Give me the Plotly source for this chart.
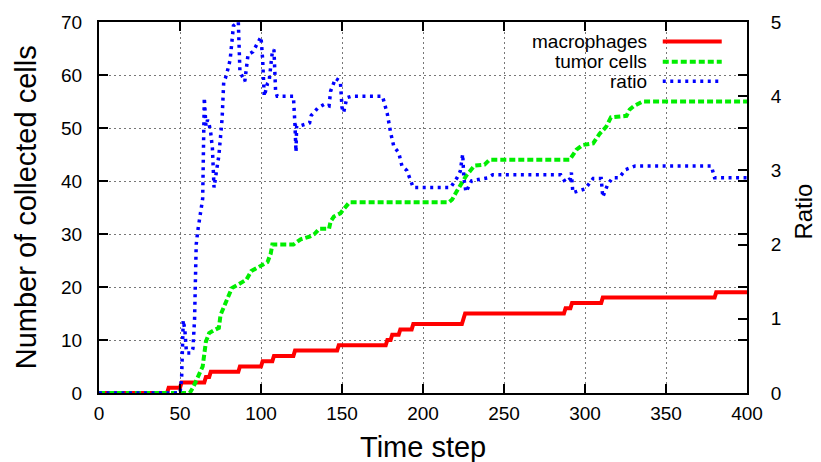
import plotly.graph_objects as go

# ---------------- data ----------------
mac_t = [0, 42, 43, 50, 51, 65, 66, 68, 69, 86, 87, 100, 101, 107, 108, 120, 121, 147, 148,
         177, 178, 180, 181, 185, 186, 193, 194, 224, 226, 287, 288, 291, 292, 310, 311, 380, 381, 400]
mac_v = [0, 0, 1, 1, 2, 2, 3, 3, 4, 4, 5, 5, 6, 6, 7, 7, 8, 8, 9,
         9, 10, 10, 11, 11, 12, 12, 13, 13, 15, 15, 16, 16, 17, 17, 18, 18, 19, 19]

tum_t = [0, 56, 58, 60, 63, 64, 66, 68, 72, 74, 75, 78, 82, 86, 91, 94, 100, 104, 106, 107,
         120, 121.5, 124.5, 130, 133, 136, 142, 143, 145, 149, 152.5, 154.6,
         216, 218, 220.5, 223.6, 226.7, 231.8, 238, 241,
         290.5, 294.7, 298.6, 305, 309, 313, 316, 325.6, 327.6, 330, 335.7, 400]
tum_v = [0, 0, 1, 2.4, 4.2, 5, 9.7, 11.3, 12, 12.3, 14.7, 17, 19.8, 20.5, 21.4, 23, 24, 24.7, 26.3, 28,
         28, 28.4, 29, 29.5, 30, 31, 31, 32.4, 33.3, 33.9, 35.1, 36,
         36, 36.5, 37.9, 39.4, 41, 42.9, 43.1, 44,
         44, 45.9, 46.8, 47.1, 48.9, 50.2, 52, 52.3, 53.5, 54.1, 55, 55]

ratio_t = [0, 50, 51, 52, 53, 54, 57, 58, 59, 60, 61, 62.5, 64, 65, 66, 67, 68, 69, 70, 71,
           72, 73, 74, 75, 76, 77, 78, 80, 81, 83, 86, 87, 90, 92, 95, 100, 101, 102, 104, 105,
           107, 108, 109, 110, 120, 121, 121.6, 122, 124, 130, 131, 135, 139, 142, 143, 146, 149,
           150, 151, 153, 156, 175, 178, 180, 182, 185, 187, 190, 193, 194, 217, 221, 223, 224.5,
           225.2, 226.5, 230, 235, 240, 243, 285, 288, 291, 291.6, 292.5, 297, 300, 305, 310, 311,
           314, 317, 321, 325, 331, 378, 380, 400]
ratio_v = [0, 0, 0.2, 0.98, 0.85, 0.54, 0.54, 0.6, 1.0, 2.0, 2.19, 2.44, 2.62, 3.98, 3.6, 3.68, 3.62, 3.5, 3.3, 2.77,
           2.95, 3.06, 3.2, 3.5, 3.7, 4.2, 4.24, 4.4, 4.5, 4.95, 5.0, 4.33, 4.2, 4.56, 4.6, 4.8, 4.5, 4.0, 4.17, 4.2,
           4.6, 4.63, 4.07, 4.0, 4.0, 3.6, 3.25, 3.6, 3.6, 3.64, 3.74, 3.84, 3.89, 3.87, 4.07, 4.24, 4.2,
           3.85, 3.78, 3.98, 4.0, 4.0, 3.76, 3.51, 3.32, 3.24, 3.06, 3.0, 2.83, 2.77, 2.77, 2.9, 2.99, 3.22,
           2.9, 2.71, 2.86, 2.88, 2.9, 2.94, 2.94, 2.84, 2.89, 2.97, 2.7, 2.73, 2.75, 2.89, 2.89, 2.64,
           2.81, 2.9, 2.9, 3.01, 3.06, 3.06, 2.9, 2.9]

x_ticks = [0, 50, 100, 150, 200, 250, 300, 350, 400]
y_ticks = [0, 10, 20, 30, 40, 50, 60, 70]
y2_ticks = [0, 1, 2, 3, 4, 5]

labels = ["macrophages", "tumor cells", "ratio"]
colors = ["#ff0000", "#00ee00", "#0000ff"]
dashes = ["solid", "6px,3px", "3px,4.5px"]
widths = [4, 4, 3.5]

FONT = "Liberation Sans, Arial, Helvetica, sans-serif"

fig = go.Figure()
fig.add_trace(go.Scatter(x=mac_t, y=mac_v, mode="lines", name=labels[0],
                         line=dict(color=colors[0], width=widths[0], dash=dashes[0])))
fig.add_trace(go.Scatter(x=tum_t, y=tum_v, mode="lines", name=labels[1],
                         line=dict(color=colors[1], width=widths[1], dash=dashes[1])))
fig.add_trace(go.Scatter(x=ratio_t, y=ratio_v, mode="lines", name=labels[2], yaxis="y2",
                         line=dict(color=colors[2], width=widths[2], dash=dashes[2])))

axis_common = dict(showline=True, linecolor="black", linewidth=2, ticks="inside",
                   ticklen=9, tickwidth=1.5, tickcolor="black", zeroline=False,
                   tickfont=dict(family=FONT, size=19, color="black"))

fig.update_layout(
    width=821, height=462,
    margin=dict(l=99, r=74, t=12, b=69),
    paper_bgcolor="white", plot_bgcolor="white",
    showlegend=False,
    font=dict(family=FONT, color="black"),
    xaxis=dict(range=[0, 400], tickvals=x_ticks, mirror="ticks",
               showgrid=True, gridcolor="#777777", gridwidth=1, griddash="2px,3px",
               ticklabelstandoff=2, **axis_common),
    yaxis=dict(range=[0, 70], tickvals=y_ticks, mirror="ticks",
               showgrid=True, gridcolor="#777777", gridwidth=1, griddash="2px,3px",
               ticklabelstandoff=11, **axis_common),
    yaxis2=dict(range=[0, 5], tickvals=y2_ticks, overlaying="y", side="right",
                showgrid=False, ticklabelstandoff=18, **axis_common),
)

# axis titles
fig.add_annotation(text="Number of collected cells", xref="paper", yref="paper",
                   x=-0.113, y=0.5, xanchor="center", yanchor="middle", textangle=-90,
                   showarrow=False, font=dict(family=FONT, size=29, color="black"))
fig.add_annotation(text="Time step", xref="paper", yref="paper",
                   x=0.5, y=-0.145, xanchor="center", yanchor="middle", showarrow=False,
                   font=dict(family=FONT, size=29, color="black"))
fig.add_annotation(text="Ratio", xref="paper", yref="paper",
                   x=1.087, y=0.49, xanchor="center", yanchor="middle", textangle=-90,
                   showarrow=False, font=dict(family=FONT, size=24, color="black"))

# gnuplot-style legend (text right-aligned, sample to its right)
leg_y = [0.9475, 0.893, 0.84]
for lab, col, dsh, w, yy in zip(labels, colors, dashes, widths, leg_y):
    fig.add_annotation(text=lab, xref="paper", yref="paper", x=0.848, y=yy,
                       xanchor="right", yanchor="middle", showarrow=False,
                       font=dict(family=FONT, size=19, color="black"))
    fig.add_shape(type="line", xref="paper", yref="paper", x0=0.870, x1=0.961, y0=yy, y1=yy,
                  line=dict(color=col, width=w, dash=dsh))

fig.write_html("out.html")
